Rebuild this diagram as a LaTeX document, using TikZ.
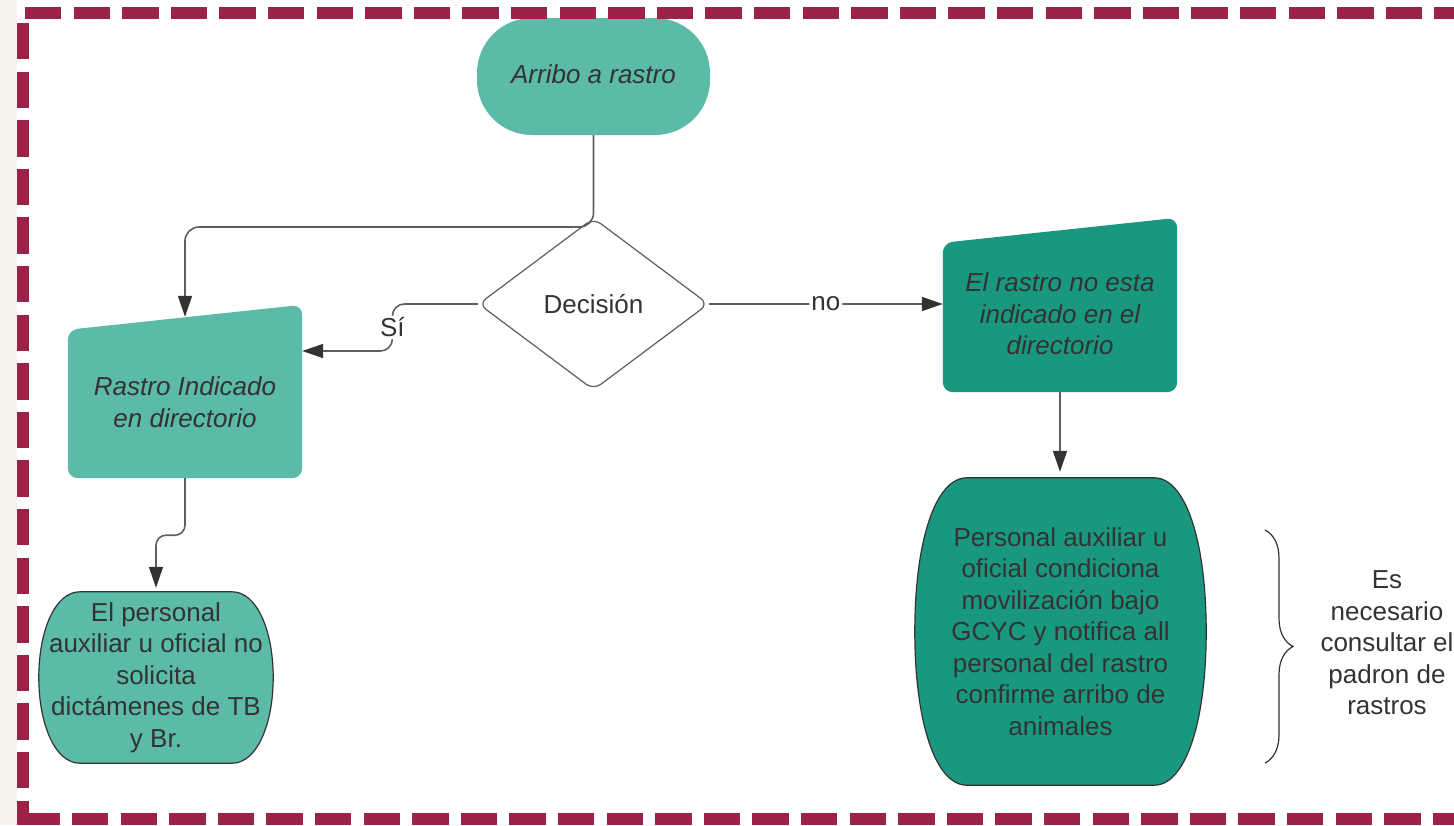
\documentclass[tikz,border=0pt]{standalone}
\usepackage{fontspec}
\setmainfont{Liberation Sans}
\usetikzlibrary{arrows.meta,shapes.geometric,backgrounds,decorations.pathreplacing}

\definecolor{tealpale}{HTML}{5BBAA8}
\definecolor{tealdeep}{HTML}{1A977F}
\definecolor{borderred}{HTML}{9C2248}
\definecolor{inkgrey}{HTML}{333333}
\definecolor{linegrey}{HTML}{5E5E5E}
\definecolor{paper}{HTML}{F7F4ED}

\tikzset{
    box/.style={inner sep=0pt, align=center, text=inkgrey, font=\fontsize{26}{31.5}\selectfont},
    slanted/.style={box, font=\fontsize{26}{31.5}\selectfont\itshape},
    conn/.style={linegrey, line width=1.6pt, rounded corners=14pt, -{Triangle[length=21pt,width=14pt,color=inkgrey]}},
    edgelabel/.style={fill=white, inner sep=2pt, text=inkgrey, font=\fontsize{26}{31.5}\selectfont},
    dashline/.style={borderred, line width=12pt, dash pattern=on 36.3pt off 12.3pt},
}

\newcommand{\barrelshape}[4]{%
    \filldraw[fill=#4, draw=inkgrey, line width=1.2pt]
        ([xshift=#2pt]#1.north west) -- ([xshift=-#2pt]#1.north east)
        .. controls ([xshift=-0.4*#2pt]#1.north east) and ([yshift=#3pt]#1.east) .. (#1.east)
        .. controls ([yshift=-#3pt]#1.east) and ([xshift=-0.4*#2pt]#1.south east) .. ([xshift=-#2pt]#1.south east)
        -- ([xshift=#2pt]#1.south west)
        .. controls ([xshift=0.4*#2pt]#1.south west) and ([yshift=-#3pt]#1.west) .. (#1.west)
        .. controls ([yshift=#3pt]#1.west) and ([xshift=0.4*#2pt]#1.north west) .. ([xshift=#2pt]#1.north west)
        -- cycle;}

\begin{document}
\begin{tikzpicture}[x=1pt, y=-1pt]
    \useasboundingbox (0,0) rectangle (1454,825);
    \clip (0,0) rectangle (1454,825);

    \node[slanted, fill=tealpale, rounded corners=55pt, minimum width=233pt, minimum height=117pt, text depth=4pt] (arribo) at (593.5,76.5) {Arribo a rastro};
    \node[box, diamond, draw=linegrey, line width=1.2pt, fill=white, rounded corners=9pt, minimum width=230pt, minimum height=172pt] (decision) at (593.5,304) {Decisión};
    \node[slanted, minimum width=234pt, minimum height=152pt] (indicado) at (185,402) {Rastro Indicado\\en directorio};
    \node[slanted, minimum width=234pt, minimum height=156pt] (noindicado) at (1060,314) {El rastro no esta\\indicado en el\\directorio};
    \node[box, minimum width=234pt, minimum height=171pt] (personal) at (156,677.5) {El personal\\auxiliar u oficial no\\solicita\\dictámenes de TB\\y Br.};
    \node[box, minimum width=291pt, minimum height=307pt] (condiciona) at (1060.5,631.5) {Personal auxiliar u\\oficial condiciona\\movilización bajo\\GCYC y notifica all\\personal del rastro\\confirme arribo de\\animales};
    \node[box] (padron) at (1387,643) {Es\\necesario\\consultar el\\padron de\\rastros};

    \coordinate (split) at (593.5,227);
    \coordinate (bracetop) at (1265,530);
    \coordinate (bracebot) at (1265,763);

    \draw[conn] (arribo.south) -- (split) -| ([yshift=9pt]indicado.north);
    \draw[conn, rounded corners=12pt] (decision.west) -- ++(-85.5,0) -- ++(0,47) node[midway, edgelabel] {Sí} -- (indicado.east |- 0,351);
    \draw[conn] (decision.east) -- node[edgelabel] {no} (noindicado.west |- decision.east);
    \draw[conn, rounded corners=10pt, shorten >=4pt] (indicado.south) -- ++(0,57) -| (personal.north);
    \draw[conn, shorten >=6pt] (noindicado.south) -- (noindicado.south |- condiciona.north);
    \draw[inkgrey, line width=1.2pt, decorate, decoration={brace, amplitude=28pt}] (bracetop) -- (bracebot);

    \begin{scope}[on background layer]
        \fill[white] (0,0) rectangle (1454,825);
        \fill[paper] (0,0) rectangle (17,825);
        \fill[tealpale, rounded corners=10pt] (indicado.south) -- (indicado.south west) -- ([yshift=-4pt]indicado.north west) -- ([yshift=21pt]indicado.north east) -- (indicado.south east) -- cycle;
        \fill[tealdeep, rounded corners=10pt] (noindicado.south) -- (noindicado.south west) -- ([yshift=-7pt]noindicado.north west) -- ([yshift=18pt]noindicado.north east) -- (noindicado.south east) -- cycle;
        \barrelshape{personal}{41}{47}{tealpale}
        \barrelshape{condiciona}{52}{91}{tealdeep}
    \end{scope}

    \draw[dashline] (23,23) -- (23,825);
    \draw[dashline] (25,13) -- (1454,13);
    \draw[dashline] (23.4,819) -- (1454,819);
\end{tikzpicture}
\end{document}
